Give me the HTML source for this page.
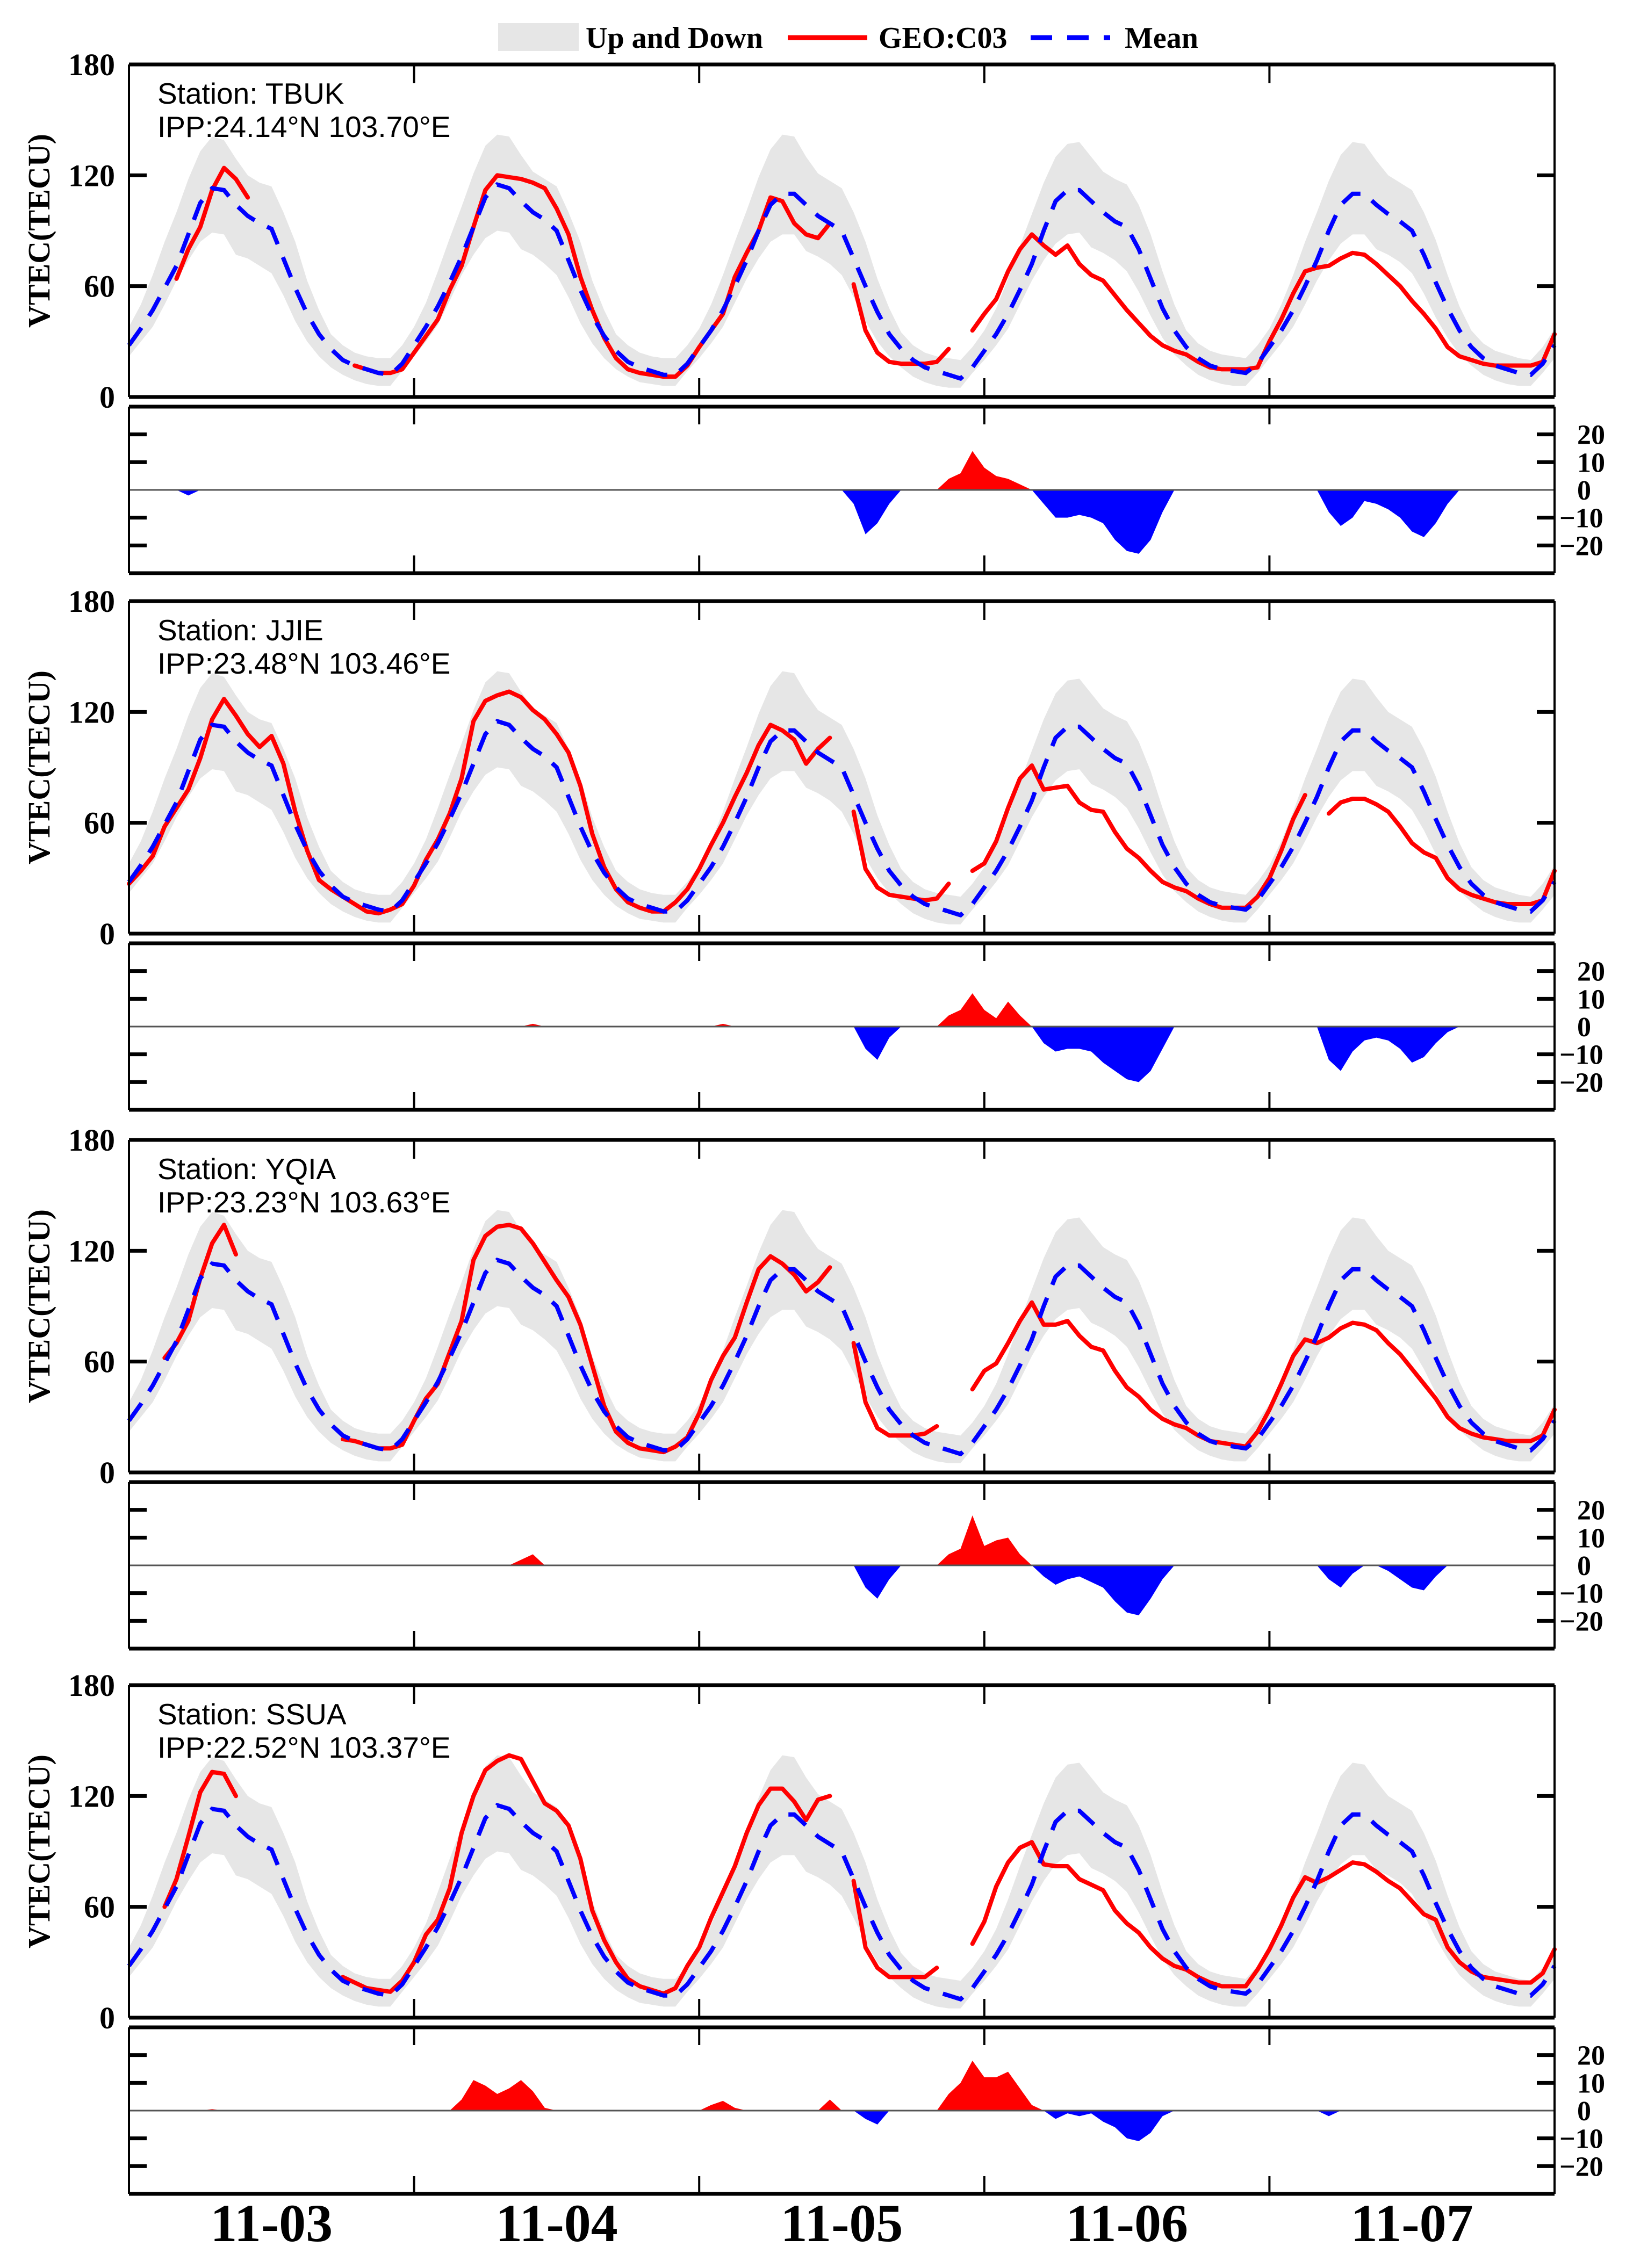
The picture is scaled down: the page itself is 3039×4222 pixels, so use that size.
<!DOCTYPE html>
<html><head><meta charset="utf-8"><style>
html,body{margin:0;padding:0;background:#fff}
svg{display:block}
.tn{font-family:"Liberation Serif",serif;font-weight:bold}
.sn{font-family:"Liberation Sans",sans-serif}
</style></head><body>
<svg id="fig" width="3039" height="4222" viewBox="0 0 3039 4222" xmlns="http://www.w3.org/2000/svg">
<g>
<rect x="927" y="43" width="150" height="52" fill="#e6e6e6"/>
<text class="tn" x="1090" y="89" font-size="56">Up and Down</text>
<line x1="1466" y1="70" x2="1614" y2="70" stroke="#ff0000" stroke-width="9"/>
<text class="tn" x="1635" y="89" font-size="56">GEO:C03</text>
<line x1="1918" y1="70" x2="2066" y2="70" stroke="#0000ff" stroke-width="9" stroke-dasharray="40,28"/>
<text class="tn" x="2093" y="89" font-size="56">Mean</text>
</g>
<g id="panels"></g>
</svg>
<script>
const dayLabels=["11-03","11-04","11-05","11-06","11-07"];
const yTicks=[0,60,120,180];
const dTicks=[20,10,0,-10,-20];
const stations=["TBUK","JJIE","YQIA","SSUA"];
const ipps=["IPP:24.14°N 103.70°E","IPP:23.48°N 103.46°E","IPP:23.23°N 103.63°E","IPP:22.52°N 103.37°E"];
const meanV=[28,37,47,59,71,88,105,113,112,104,98,94,91,75,59,45,34,26,20,17,15,13,12,18,
28,38,49,62,76,92,108,115,113,106,100,96,90,74,58,44,33,25,19,16,14,12,12,18,
27,36,47,60,74,90,104,110,110,104,98,94,90,75,60,46,34,26,20,16,14,12,10,16,
25,34,45,58,72,90,106,112,112,106,100,95,92,80,64,48,36,27,21,17,15,14,13,18,
27,36,47,60,74,90,104,110,110,104,99,95,90,77,62,48,36,27,21,17,15,13,12,18,28];
const upV=[38,50,66,84,100,118,133,141,139,129,120,116,114,100,84,63,47,34,28,24,22,21,21,28,
38,51,68,86,103,121,136,142,141,131,122,118,114,100,84,63,47,34,28,24,22,21,21,28,
37,50,66,84,101,119,134,142,141,130,121,117,113,100,84,64,48,35,28,24,22,21,20,27,
36,48,64,82,99,116,130,137,138,130,122,118,115,104,88,68,50,36,29,25,23,22,21,28,
37,50,66,84,100,117,131,138,137,128,120,116,112,100,85,66,49,36,29,25,23,21,20,27,37];
const downV=[22,30,38,50,63,74,84,89,88,77,75,71,67,55,41,30,22,16,12,9,7,6,6,14,
22,30,39,52,66,77,86,90,89,80,77,72,66,54,40,29,21,15,11,8,7,6,6,14,
21,29,38,51,64,75,84,88,88,79,76,72,66,54,41,30,22,16,11,8,6,5,5,13,
20,28,37,50,63,74,83,88,89,81,78,74,68,57,44,32,23,17,12,9,7,6,6,13,
21,29,38,50,63,74,83,88,88,80,77,73,67,56,43,32,23,17,12,9,7,6,6,13,21];
const obsTBUK=[null,null,null,null,64,80,92,112,124,118,108,null,null,null,null,null,null,null,null,17,15,13,13,15,
24,33,42,58,71,92,112,120,119,118,116,113,102,88,65,47,32,21,15,13,12,11,11,17,
27,36,45,65,78,90,108,106,94,88,86,94,null,61,36,24,19,18,18,18,19,26,null,36,
45,53,68,80,88,82,77,82,72,66,63,55,47,40,33,28,25,23,19,16,15,15,15,16,
30,42,56,68,70,71,75,78,77,72,66,60,52,45,37,27,22,20,18,17,17,17,17,19,34];
const obsJJIE=[27,34,42,58,68,78,95,116,127,118,108,101,107,92,66,45,29,24,20,16,12,11,13,16,
26,40,51,65,84,115,126,129,131,128,121,116,108,98,80,54,36,24,17,14,12,12,17,24,
35,48,60,74,87,102,113,110,105,92,100,106,null,66,35,25,21,20,19,18,19,27,null,34,
38,50,68,84,91,78,79,80,71,67,66,55,46,41,34,28,25,23,19,16,14,14,14,20,
30,45,62,75,null,65,71,73,73,70,66,58,49,44,41,30,24,21,19,17,16,16,16,18,34];
const obsYQIA=[null,null,null,62,70,82,105,124,134,118,null,null,null,null,null,null,null,null,18,17,15,13,13,15,
28,40,48,65,82,115,128,133,134,132,124,114,104,95,80,58,36,22,16,13,12,11,14,19,
32,50,63,73,92,110,117,113,107,98,103,111,null,70,38,24,20,20,20,21,25,null,null,45,
55,59,70,82,92,80,80,82,74,68,66,55,46,41,34,29,26,24,20,17,16,15,14,22,
34,48,63,72,70,73,78,81,80,77,70,64,56,48,40,30,24,21,19,18,17,17,17,20,34];
const obsSSUA=[null,null,null,60,75,98,122,133,132,120,null,null,null,null,null,null,null,null,22,19,16,15,14,20,
30,45,53,70,100,120,134,139,142,140,128,116,112,104,86,58,42,30,21,17,15,13,16,28,
38,54,68,82,100,115,124,124,117,107,118,120,null,74,38,27,22,22,22,22,27,null,null,40,
52,71,84,92,95,83,82,82,75,72,69,58,51,46,38,32,28,26,22,19,17,17,17,26,
37,50,65,76,73,76,80,84,83,79,74,70,63,56,53,38,30,25,22,21,20,19,19,24,37];
const dTBUK=[0,0,0,0,0,-2,0,0,0,0,0,0,0,0,0,0,0,0,0,0,0,0,0,0,
0,0,0,0,0,0,0,0,0,0,0,0,0,0,0,0,0,0,0,0,0,0,0,0,
0,0,0,0,0,0,0,0,0,0,0,0,0,-5,-16,-12,-5,0,0,0,0,4,6,14,
8,5,4,2,0,-5,-10,-10,-9,-10,-12,-18,-22,-23,-18,-8,0,0,0,0,0,0,0,0,
0,0,0,0,0,-8,-13,-10,-4,-5,-7,-10,-15,-17,-12,-5,0,0,0,0,0,0,0,0,0];
const dJJIE=[0,0,0,0,0,0,0,0,0,0,0,0,0,0,0,0,0,0,0,0,0,0,0,0,
0,0,0,0,0,0,0,0,0,0,1,0,0,0,0,0,0,0,0,0,0,0,0,0,
0,0,1,0,0,0,0,0,0,0,0,0,0,0,-8,-12,-4,0,0,0,0,4,6,12,
6,3,9,4,0,-6,-9,-8,-8,-9,-13,-16,-19,-20,-16,-8,0,0,0,0,0,0,0,0,
0,0,0,0,0,-12,-16,-9,-5,-4,-5,-8,-13,-11,-6,-2,0,0,0,0,0,0,0,0,0];
const dYQIA=[0,0,0,0,0,0,0,0,0,0,0,0,0,0,0,0,0,0,0,0,0,0,0,0,
0,0,0,0,0,0,0,0,0,2,4,0,0,0,0,0,0,0,0,0,0,0,0,0,
0,0,0,0,0,0,0,0,0,0,0,0,0,0,-8,-12,-5,0,0,0,0,4,6,18,
7,9,10,4,0,-4,-7,-5,-4,-6,-8,-13,-17,-18,-12,-5,0,0,0,0,0,0,0,0,
0,0,0,0,0,-5,-8,-3,0,0,-2,-5,-8,-9,-4,0,0,0,0,0,0,0,0,0,0];
const dSSUA=[0,0,0,0,0,0,0,0.5,0,0,0,0,0,0,0,0,0,0,0,0,0,0,0,0,
0,0,0,0,4,11,9,6,8,11,7,1,0,0,0,0,0,0,0,0,0,0,0,0,
0,2,3.5,1,0,0,0,0,0,0,0,4,0,0,-3,-5,0,0,0,0,0,6,10,18,
12,12,14,8,2,0,-3,-1,-2,-1,-4,-6,-10,-11,-8,-2,0,0,0,0,0,0,0,0,
0,0,0,0,0,-2,0,0,0,0,0,0,0,0,0,0,0,0,0,0,0,0,0,0,0];
const obsAll=[obsTBUK,obsJJIE,obsYQIA,obsSSUA];
const deltaAll=[dTBUK,dJJIE,dYQIA,dSSUA];

const NS="http://www.w3.org/2000/svg";
const X0=240,X1=2893,NH=120;
const panelTops=[120,1119,2122,3137];
const MH=619,DOFF=637,DH=310;
function xs(h){return X0+(X1-X0)*h/NH;}
function mk(tag,attrs,parent){const e=document.createElementNS(NS,tag);for(const k in attrs)e.setAttribute(k,attrs[k]);parent.appendChild(e);return e;}
const root=document.getElementById("panels");

stations.forEach((st,p)=>{
  const T=panelTops[p], B=T+MH;
  const ys=v=>B-(B-T)*v/180;
  const DT=T+DOFF, DB=DT+DH, DZ=(DT+DB)/2;
  const yd=v=>DZ-v*(DH/2)/30;
  const g=mk("g",{},root);
  
  
  // band
  let d="";
  for(let i=0;i<=NH;i++)d+=(i?"L":"M")+xs(i)+","+ys(upV[i]);
  for(let i=NH;i>=0;i--)d+="L"+xs(i)+","+ys(downV[i]);
  const band=mk("path",{d:d+"Z",fill:"#e6e6e6"},g);
  
  
  // obs
  const obs=obsAll[p];let od="",pen=false;
  for(let i=0;i<=NH;i++){if(obs[i]==null){pen=false;continue;}od+=(pen?"L":"M")+xs(i)+","+ys(obs[i]);pen=true;}
  const ol=mk("path",{d:od,fill:"none",stroke:"#ff0000","stroke-width":8,"stroke-linejoin":"round","stroke-linecap":"round"},g);
  
  
  // mean
  let md="";for(let i=0;i<=NH;i++)md+=(i?"L":"M")+xs(i)+","+ys(meanV[i]);
  const ml=mk("path",{d:md,fill:"none",stroke:"#0000ff","stroke-width":8,"stroke-dasharray":"40,26"},g);
  
  
  // frame main
  const fr=mk("g",{},g);
  
  
  mk("line",{x1:X0,y1:T,x2:X1,y2:T,stroke:"#000","stroke-width":7},fr);
  mk("line",{x1:X0,y1:B,x2:X1,y2:B,stroke:"#000","stroke-width":7},fr);
  mk("line",{x1:X0,y1:T,x2:X0,y2:B,stroke:"#000","stroke-width":4},fr);
  mk("line",{x1:X1,y1:T,x2:X1,y2:B,stroke:"#000","stroke-width":4},fr);
  for(let k=1;k<5;k++){const x=xs(k*24);
    mk("line",{x1:x,y1:T,x2:x,y2:T+35,stroke:"#000","stroke-width":4},fr);
    mk("line",{x1:x,y1:B,x2:x,y2:B-35,stroke:"#000","stroke-width":4},fr);}
  yTicks.forEach(v=>{const y=ys(v);
    if(v>0&&v<180){mk("line",{x1:X0,y1:y,x2:X0+33,y2:y,stroke:"#000","stroke-width":7},fr);
    mk("line",{x1:X1,y1:y,x2:X1-33,y2:y,stroke:"#000","stroke-width":7},fr);}
    const t=mk("text",{x:214,y:y+20,"font-size":58,"text-anchor":"end",class:"tn"},fr);t.textContent=v;
    
    });
  const yt=mk("text",{x:0,y:0,"font-size":58,"text-anchor":"middle",class:"tn",transform:"translate(92,"+((T+B)/2)+") rotate(-90)"},g);
  yt.textContent="VTEC(TECU)";
  
  
  const s1=mk("text",{x:293,y:T+73,"font-size":55,class:"sn"},g);s1.textContent="Station: "+st;
  
  
  const s2=mk("text",{x:293,y:T+135,"font-size":55,class:"sn"},g);s2.textContent=ipps[p];
  
  
  // delta
  const dv=deltaAll[p];
  let pd="M"+xs(0)+","+DZ,nd="M"+xs(0)+","+DZ;
  for(let i=0;i<=NH;i++){pd+="L"+xs(i)+","+yd(Math.max(0,dv[i]));nd+="L"+xs(i)+","+yd(Math.min(0,dv[i]));}
  pd+="L"+xs(NH)+","+DZ+"Z";nd+="L"+xs(NH)+","+DZ+"Z";
  const pa=mk("path",{d:pd,fill:"#ff0000"},g);
  
  
  const na=mk("path",{d:nd,fill:"#0000ff"},g);
  
  
  const df=mk("g",{},g);
  
  
  mk("line",{x1:X0,y1:DZ,x2:X1,y2:DZ,stroke:"#555","stroke-width":3},df);
  mk("line",{x1:X0,y1:DT,x2:X1,y2:DT,stroke:"#000","stroke-width":7},df);
  mk("line",{x1:X0,y1:DB,x2:X1,y2:DB,stroke:"#000","stroke-width":7},df);
  mk("line",{x1:X0,y1:DT,x2:X0,y2:DB,stroke:"#000","stroke-width":4},df);
  mk("line",{x1:X1,y1:DT,x2:X1,y2:DB,stroke:"#000","stroke-width":4},df);
  for(let k=1;k<5;k++){const x=xs(k*24);
    mk("line",{x1:x,y1:DT,x2:x,y2:DT+33,stroke:"#000","stroke-width":4},df);
    mk("line",{x1:x,y1:DB,x2:x,y2:DB-33,stroke:"#000","stroke-width":4},df);}
  dTicks.forEach(v=>{const y=yd(v);
    if(v!==0){mk("line",{x1:X0,y1:y,x2:X0+33,y2:y,stroke:"#000","stroke-width":7},df);
    mk("line",{x1:X1,y1:y,x2:X1-33,y2:y,stroke:"#000","stroke-width":7},df);}
    const t=mk("text",{x:v<0?2902:2935,y:y+18,"font-size":52,class:"tn"},df);t.textContent=v<0?"\u2212"+(-v):v;
    
    });
});
dayLabels.forEach((lab,k)=>{
  const t=mk("text",{x:xs(k*24+12),y:4172,"font-size":100,"text-anchor":"middle",class:"tn"},root);
  t.textContent=lab;
  
  
});
</script>
</body></html>
